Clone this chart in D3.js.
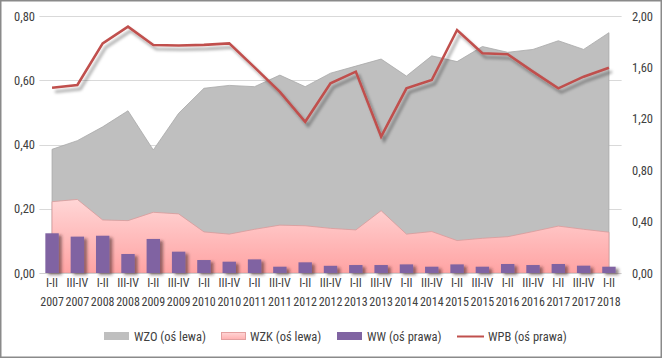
<!DOCTYPE html>
<html>
<head>
<meta charset="utf-8">
<script src="https://cdn.jsdelivr.net/npm/d3@7/dist/d3.min.js"></script>
<style>
  html, body { margin: 0; padding: 0; background: #fff; }
  svg { display: block; }
  text { font-family: "Liberation Sans Narrow", "Arial Narrow", "Roboto Condensed", "Liberation Sans", sans-serif; fill: #404040; }
</style>
</head>
<body>
<svg id="chart" width="662" height="358"></svg>
<script>
// ---- data ----
const periods = ["I-II","III-IV","I-II","III-IV","I-II","III-IV","I-II","III-IV","I-II","III-IV","I-II","III-IV",
                 "I-II","III-IV","I-II","III-IV","I-II","III-IV","I-II","III-IV","I-II","III-IV","I-II"];
const years = ["2007","2007","2008","2008","2009","2009","2010","2010","2011","2011","2012","2012",
               "2013","2013","2014","2014","2015","2015","2016","2016","2017","2017","2018"];
// left axis
const wzo = [0.385,0.412,0.455,0.505,0.383,0.497,0.575,0.584,0.580,0.616,0.580,0.622,
             0.644,0.666,0.613,0.676,0.658,0.705,0.687,0.696,0.723,0.696,0.748];
const wzk = [0.222,0.229,0.165,0.163,0.189,0.184,0.128,0.121,0.136,0.149,0.147,0.139,
             0.134,0.194,0.121,0.129,0.101,0.108,0.113,0.129,0.146,0.136,0.127];
// right axis
const ww  = [0.309,0.283,0.290,0.148,0.265,0.166,0.101,0.088,0.106,0.049,0.083,0.056,
             0.062,0.062,0.067,0.049,0.067,0.049,0.070,0.062,0.070,0.057,0.049];
const wpb = [1.442,1.463,1.787,1.917,1.774,1.770,1.775,1.787,1.600,1.410,1.177,1.476,
             1.567,1.061,1.437,1.502,1.891,1.710,1.702,1.567,1.437,1.528,1.598];
const leftTicks = [0, 0.2, 0.4, 0.6, 0.8];
const rightTicks = [0, 0.4, 0.8, 1.2, 1.6, 2.0];
const legendLabels = ["WZO (oś lewa)", "WZK (oś lewa)", "WW (oś prawa)", "WPB (oś prawa)"];

const cats = periods.map((p, i) => i);

const svg = d3.select("#chart");
const defs = svg.append("defs");

const lineShadow = defs.append("filter").attr("id","lineShadow")
  .attr("x","-10%").attr("y","-10%").attr("width","120%").attr("height","130%");
lineShadow.append("feDropShadow").attr("dx",3).attr("dy",4).attr("stdDeviation",1.6)
  .attr("flood-color","#000").attr("flood-opacity",0.35);

const barShadow = defs.append("filter").attr("id","barShadow")
  .attr("x","-30%").attr("y","-30%").attr("width","180%").attr("height","160%");
barShadow.append("feDropShadow").attr("dx",3).attr("dy",2).attr("stdDeviation",1.6)
  .attr("flood-color","#3a1a1a").attr("flood-opacity",0.55);

const grad = defs.append("linearGradient").attr("id","pinkGrad")
  .attr("x1",0).attr("y1",0).attr("x2",0).attr("y2",1);
grad.append("stop").attr("offset","0%").attr("stop-color","#ffd6d6");
grad.append("stop").attr("offset","100%").attr("stop-color","#ffa3a3");

const legGrad = defs.append("linearGradient").attr("id","legPink")
  .attr("x1",0).attr("y1",0).attr("x2",0).attr("y2",1);
legGrad.append("stop").attr("offset","0%").attr("stop-color","#ffd6d6");
legGrad.append("stop").attr("offset","100%").attr("stop-color","#ffb0b0");

// ---- scales ----
const x = d3.scaleBand().domain(cats).range([39.4, 621.6]).paddingInner(0.47).paddingOuter(0.235);
const xc = i => x(i) + x.bandwidth() / 2;
const yL = d3.scaleLinear().domain([0, 0.8]).range([273, 16]);
const yR = d3.scaleLinear().domain([0, 2.0]).range([273, 16]);

// frame
svg.append("rect").attr("x",0.75).attr("y",0.75).attr("width",660.5).attr("height",356.5)
  .attr("fill","#fff").attr("stroke","#8a8a8a").attr("stroke-width",1.5);

// gridlines
svg.append("g").selectAll("line").data(leftTicks.slice(1)).join("line")
  .attr("x1",39.4).attr("x2",621.6)
  .attr("y1",d => Math.round(yL(d))+0.5).attr("y2",d => Math.round(yL(d))+0.5)
  .attr("stroke","#d9d9d9").attr("stroke-width",1);

// areas
const areaL = d3.area().x((d,i) => xc(i)).y0(yL(0)).y1(d => yL(d));
svg.append("path").datum(wzo).attr("d", areaL)
  .attr("fill","#bfbfbf").attr("stroke","#a8a8a8").attr("stroke-width",0.8);
svg.append("path").datum(wzk).attr("d", areaL)
  .attr("fill","url(#pinkGrad)").attr("stroke","#d99a9a").attr("stroke-width",0.8);

// axis baseline
svg.append("line").attr("x1",39.4).attr("x2",621.6).attr("y1",273.5).attr("y2",273.5)
  .attr("stroke","#d0d0d0");

// bars
svg.append("g").attr("filter","url(#barShadow)")
  .selectAll("rect").data(ww).join("rect")
  .attr("x",(d,i) => x(i)).attr("width", x.bandwidth())
  .attr("y", d => yR(d)).attr("height", d => yR(0) - yR(d))
  .attr("fill","#8064a2");

// line
const lineR = d3.line().x((d,i) => xc(i)).y(d => yR(d));
svg.append("path").datum(wpb).attr("d", lineR)
  .attr("fill","none").attr("stroke","#c0504d").attr("stroke-width",2.6)
  .attr("stroke-linejoin","miter").attr("filter","url(#lineShadow)");

// axes
const fmt = v => d3.format(".2f")(v).replace(".", ",");
const axL = svg.append("g").attr("transform","translate(35,0)")
  .call(d3.axisLeft(yL).tickValues(leftTicks).tickFormat(fmt).tickSize(0).tickPadding(0));
axL.select(".domain").remove();
axL.selectAll("text").style("font-size","12.5px").attr("fill","#404040");

const axR = svg.append("g").attr("transform","translate(632,0)")
  .call(d3.axisRight(yR).tickValues(rightTicks).tickFormat(fmt).tickSize(0).tickPadding(0));
axR.select(".domain").remove();
axR.selectAll("text").style("font-size","12.5px").attr("fill","#404040");

const axB = svg.append("g").attr("transform","translate(0,273)")
  .call(d3.axisBottom(x).tickSize(0).tickFormat(""));
axB.select(".domain").remove();
axB.selectAll(".tick").each(function(d) {
  const t = d3.select(this).append("text").attr("text-anchor","middle")
    .style("font-size","12px").attr("fill","#404040");
  t.append("tspan").attr("x",0).attr("y",14).text(periods[d]);
  t.append("tspan").attr("x",0).attr("y",33).text(years[d]);
});

// legend
const lg = svg.append("g").style("font-size","12.5px");
const legX = [104, 221, 337, 457];
// WZO
lg.append("rect").attr("x",legX[0]).attr("y",332).attr("width",25).attr("height",8).attr("fill","#bfbfbf");
// WZK
lg.append("rect").attr("x",legX[1]+0.5).attr("y",332.5).attr("width",24).attr("height",7)
  .attr("fill","url(#legPink)").attr("stroke","#e3a0a0");
// WW
lg.append("rect").attr("x",legX[2]).attr("y",332).attr("width",25).attr("height",8).attr("fill","#8064a2");
// WPB
lg.append("line").attr("x1",legX[3]).attr("x2",legX[3]+27).attr("y1",336.5).attr("y2",336.5)
  .attr("stroke","#c0504d").attr("stroke-width",2);
const textX = [134, 250, 367, 488];
lg.selectAll("text.leg").data(legendLabels).join("text").attr("class","leg")
  .attr("x",(d,i) => textX[i]).attr("y",340.5).text(d => d);
</script>
</body>
</html>
